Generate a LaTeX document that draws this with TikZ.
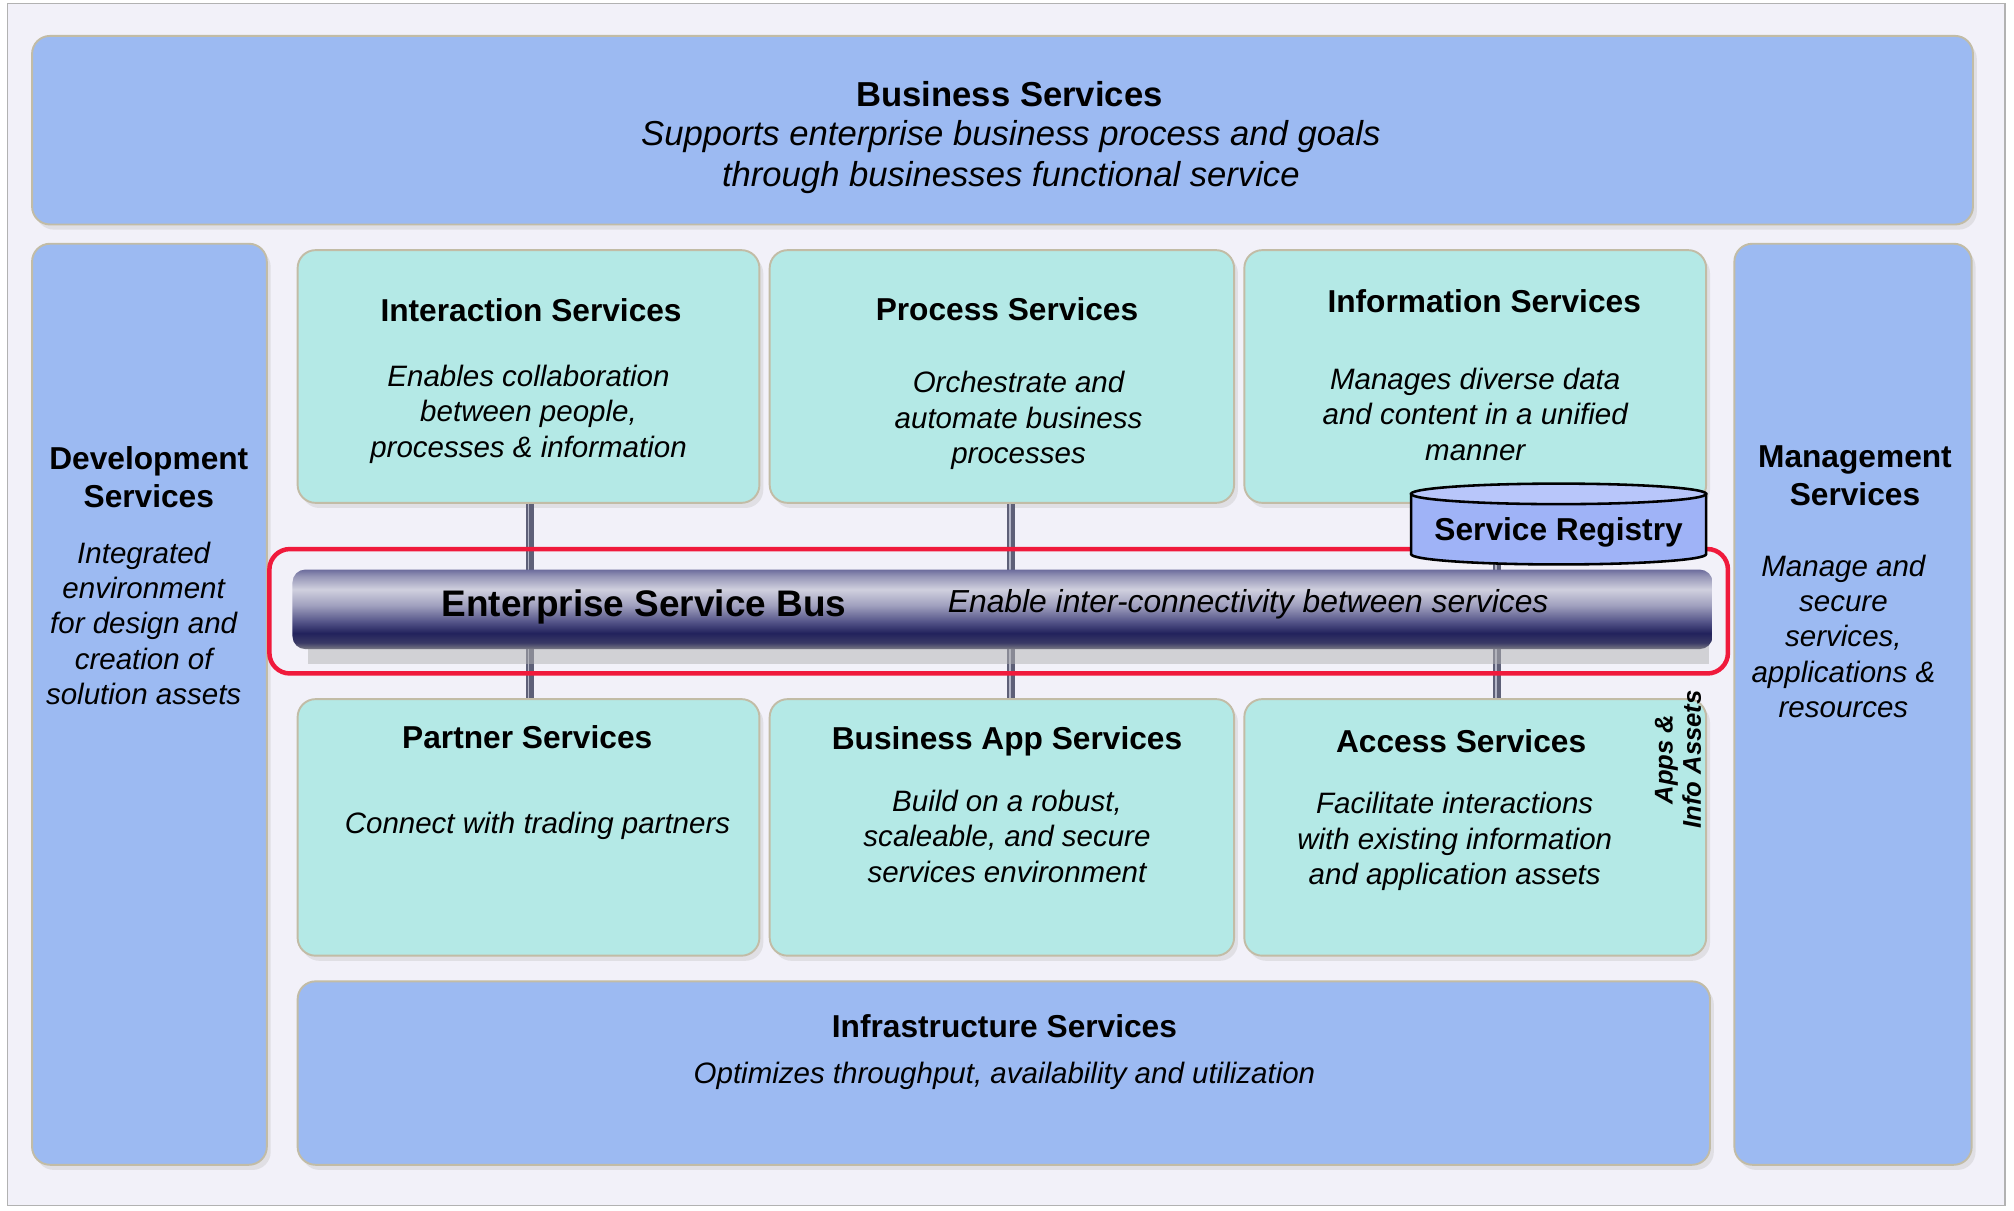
\documentclass[tikz,border=0pt]{standalone}
\usepackage{fontspec}
\setmainfont{Liberation Sans}
\usetikzlibrary{calc}
\definecolor{bgc}{HTML}{F2F1F9}
\definecolor{bluefill}{HTML}{9CBAF2}
\definecolor{cyanfill}{HTML}{B4E9E6}
\definecolor{edgec}{HTML}{C2BCA6}
\definecolor{redc}{HTML}{F01A3C}
\definecolor{regc}{HTML}{9FB3F7}
\definecolor{regtop}{HTML}{B8C6FA}
\definecolor{pipec}{HTML}{5E6078}
\definecolor{pipehi}{HTML}{B4B6C8}
\definecolor{tA}{HTML}{6C6C9C}
\definecolor{tB}{HTML}{9494B6}
\definecolor{tC}{HTML}{D0D0DE}
\definecolor{tD}{HTML}{A0A0BE}
\definecolor{tE}{HTML}{56568A}
\definecolor{tF}{HTML}{22225C}
\definecolor{tG}{HTML}{3A3A66}
\definecolor{tH}{HTML}{7A7A84}
\pgfdeclareverticalshading{esbtube}{100bp}{color(0bp)=(tH); color(25bp)=(tH); color(29bp)=(tG); color(35bp)=(tF); color(42.5bp)=(tE); color(52.5bp)=(tD); color(62.5bp)=(tC); color(71bp)=(tB); color(75bp)=(tA); color(100bp)=(tA)}
\tikzset{
  panel/.style={draw=edgec, line width=1.5pt, rounded corners=14pt, inner sep=0pt},
  bluepanel/.style={panel, fill=bluefill},
  cyanpanel/.style={panel, fill=cyanfill},
  ttl/.style={font=\fontsize{24.7}{29.6}\selectfont\bfseries, align=center, inner sep=0pt},
  bigttl/.style={font=\fontsize{27}{32}\selectfont\bfseries, align=center, inner sep=0pt},
  bigdsc/.style={font=\fontsize{27}{32}\selectfont\itshape, align=center, inner sep=0pt},
  dsc/.style={font=\fontsize{23}{27.6}\selectfont\itshape, align=center, inner sep=0pt},
  pipe/.style={line width=6pt, draw=pipec},
  pipecore/.style={line width=1.5pt, draw=pipehi},
  shadowbox/.style={fill=black!25, opacity=0.35, rounded corners=14pt},
}
\begin{document}
\begin{tikzpicture}[x=1pt, y=-1pt]
\useasboundingbox (0,0) rectangle (1570,944);
\fill[white] (0,0) rectangle (1570,944);
\draw[fill=bgc, draw=black!30, line width=1pt] (6,3) rectangle (1563,940);

% shadows
\foreach \a/\b/\c/\d in {25/28/1538/175, 25/190/208/908, 1352/190/1537/908, 232/195/592/392, 600/195/962/392, 970/195/1330/392, 232/545/592/745, 600/545/962/745, 970/545/1330/745, 232/765/1333/908}
  \fill[shadowbox] (\a+3,\b+4) rectangle (\c+3,\d+4);

% boxes
\node[bluepanel, minimum width=1513pt, minimum height=147pt] (bus) at (781.5,101.5) {};
\node[bluepanel, minimum width=183pt, minimum height=718pt] (dev) at (116.5,549) {};
\node[bluepanel, minimum width=185pt, minimum height=718pt] (mgmt) at (1444.5,549) {};
\node[bluepanel, minimum width=1101pt, minimum height=143pt] (infra) at (782.5,836.5) {};

\node[cyanpanel, minimum width=360pt, minimum height=197pt] (inter) at (412,293.5) {};
\node[cyanpanel, minimum width=362pt, minimum height=197pt] (proc) at (781,293.5) {};
\node[cyanpanel, minimum width=360pt, minimum height=197pt] (info) at (1150,293.5) {};
\node[cyanpanel, minimum width=360pt, minimum height=200pt] (partner) at (412,645) {};
\node[cyanpanel, minimum width=362pt, minimum height=200pt] (bapp) at (781,645) {};
\node[cyanpanel, minimum width=360pt, minimum height=200pt] (access) at (1150,645) {};

% pipes
\draw[pipe] ([xshift=1pt]inter.south) -- ([xshift=1pt]partner.north);
\draw[pipecore] ([xshift=0pt]inter.south) -- ([xshift=0pt]partner.north);
\draw[pipe] ([xshift=7pt]proc.south) -- ([xshift=7pt]bapp.north);
\draw[pipecore] ([xshift=6pt]proc.south) -- ([xshift=6pt]bapp.north);
\draw[pipe] ([xshift=17pt]info.south) -- ([xshift=17pt]access.north);
\draw[pipecore] ([xshift=16pt]info.south) -- ([xshift=16pt]access.north);

% ESB tube
\fill[black!30, opacity=0.5] (240,500) rectangle (1332,518);
\node[shading=esbtube, rounded corners=10pt, minimum width=1107pt, minimum height=62pt, inner sep=0pt] (esb) at (781.5,475) {};
\node[draw=redc, line width=3.5pt, rounded corners=16pt, minimum width=1137pt, minimum height=97pt, inner sep=0pt] (esbframe) at (778.5,476.5) {};

% Service registry cylinder
\draw[fill=regc, line width=2pt] (1100,385) -- (1100,432) arc[start angle=180, end angle=360, x radius=115pt, y radius=8pt] -- (1330,385) -- cycle;
\draw[fill=regtop, line width=2pt] (1215,385) ellipse [x radius=115pt, y radius=8pt];
\node[ttl] (reg) at (1215,415) {Service Registry};

% texts
\node[bigttl] (busT) at (787,73) {Business Services};
\node[bigdsc, anchor=north] (busD) at (788,94) {Supports enterprise business process and goals\\through businesses functional service};

\node[ttl] (devT) at (116,372) {Development\\Services};
\node[dsc] (devD) at (112,486) {Integrated\\environment\\for design and\\creation of\\solution assets};

\node[ttl] (mgmtT) at (1446,371) {Management\\Services};
\node[dsc] (mgmtD) at (1437,496) {Manage and\\secure\\services,\\applications \&\\resources};

\node[ttl] (interT) at (414,242) {Interaction Services};
\node[dsc] (interD) at (412,323) {Enables collaboration\\between people,\\processes \& information};

\node[ttl] (procT) at (785,241) {Process Services};
\node[dsc] (procD) at (794,328) {Orchestrate and\\automate business\\processes};

\node[ttl] (infoT) at (1157,235) {Information Services};
\node[dsc] (infoD) at (1150,323) {Manages diverse data\\and content in a unified\\manner};

\node[ttl] (partT) at (411,575) {Partner Services};
\node[dsc] (partD) at (419,644) {Connect with trading partners};

\node[ttl] (bappT) at (785,578) {Business App Services};
\node[dsc] (bappD) at (785,652) {Build on a robust,\\scaleable, and secure\\services environment};

\node[ttl] (accT) at (1139,578) {Access Services};
\node[dsc] (accD) at (1134,656) {Facilitate interactions\\with existing information\\and application assets};

\node[font=\fontsize{20}{22}\selectfont\bfseries\itshape, align=center, inner sep=0pt, rotate=90] (apps) at (1308,592) {Apps \&\\Info Assets};

\node[ttl] (infraT) at (783,800) {Infrastructure Services};
\node[dsc] (infraD) at (783,839) {Optimizes throughput, availability and utilization};

\node[font=\fontsize{28.8}{34}\selectfont\bfseries, inner sep=0pt] (esbT) at (502,473) {Enterprise Service Bus};
\node[dsc, font=\fontsize{24.8}{29}\selectfont\itshape] (esbD) at (973,471) {Enable inter-connectivity between services};
\end{tikzpicture}
\end{document}
